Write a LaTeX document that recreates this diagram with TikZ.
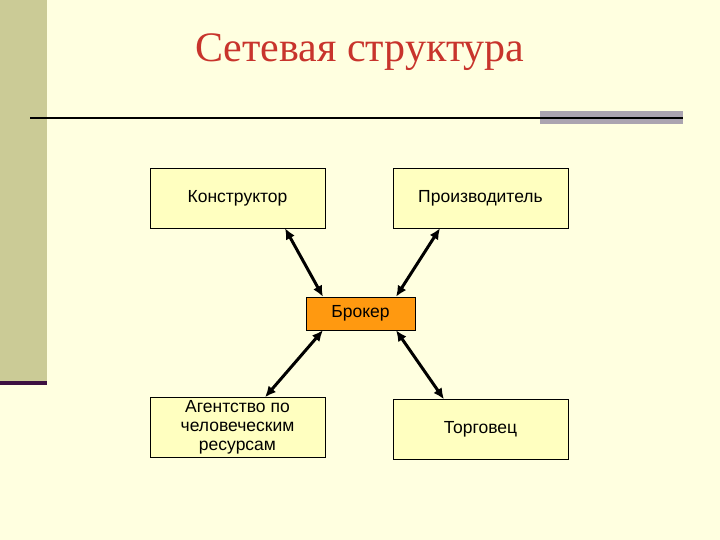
\documentclass[tikz,border=0pt]{standalone}
\usepackage{fontspec}
\setmainfont{Liberation Sans}
\newfontfamily\titlefont{Liberation Serif}
\usetikzlibrary{arrows.meta}
\begin{document}
\begin{tikzpicture}[x=1pt,y=-1pt,
  box/.style={draw=black,fill=boxc,minimum width=175pt,minimum height=60pt,inner sep=0pt,font=\fontsize{17.5}{19}\selectfont,align=center},
  arr/.style={line width=3pt,{Latex[length=11pt,width=10pt]}-{Latex[length=11pt,width=10pt]}}]
\definecolor{bg}{HTML}{FFFFE0}
\definecolor{boxc}{HTML}{FFFFC0}
\definecolor{strip}{HTML}{CBCB96}
\definecolor{purp}{HTML}{3C1040}
\definecolor{graybar}{HTML}{ABA4B0}
\definecolor{titlec}{HTML}{C8342C}
\definecolor{orangec}{HTML}{FF9910}
\fill[bg] (0,0) rectangle (720,540);
\useasboundingbox (0,0) rectangle (720,540);
\fill[strip] (0,0) rectangle (47,383);
\fill[purp] (0,381) rectangle (47,385);
\fill[graybar] (540,111) rectangle (683,124);
\draw[line width=2pt] (30,118) -- (683,118);
\node[text=titlec,font=\titlefont\fontsize{42}{46}\selectfont] (title) at (360,52) {Сетевая структура};
\node[box] (k) at (237.5,198) {Конструктор};
\node[box] (p) at (480.5,198) {Производитель};
\node[box] (a) at (237.5,427.5) {Агентство по\\человеческим\\ресурсам};
\node[box] (t) at (480.5,429.5) {Торговец};
\node[draw=black,fill=orangec,minimum width=109pt,minimum height=33pt,inner sep=0pt,font=\fontsize{17.5}{19}\selectfont] (b) at (360.5,313.5) {Брокер};
\draw[arr] ([xshift=47.5pt]k.south) -- ([xshift=-37.5pt]b.north);
\draw[arr] ([xshift=-40.5pt]p.south) -- ([xshift=35.5pt]b.north);
\draw[arr] ([xshift=27.5pt]a.north) -- ([xshift=-37.5pt]b.south);
\draw[arr] ([xshift=-36.5pt]t.north) -- ([xshift=35.5pt]b.south);
\end{tikzpicture}
\end{document}
